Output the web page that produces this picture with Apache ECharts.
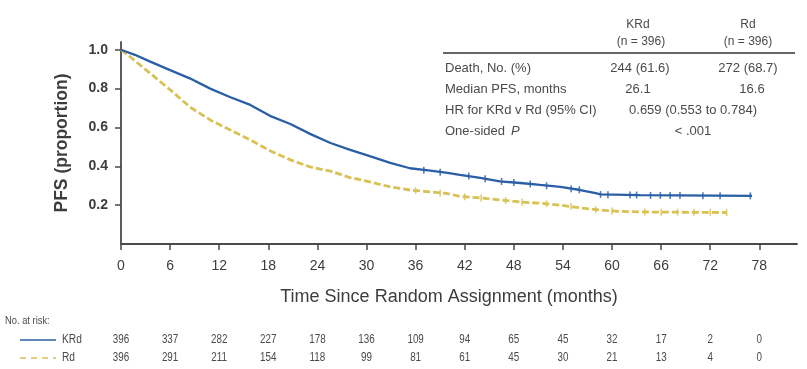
<!DOCTYPE html>
<html>
<head>
<meta charset="utf-8">
<script src="https://cdn.jsdelivr.net/npm/echarts@6/dist/echarts.min.js"></script>
<style>
html, body { margin: 0; padding: 0; background: #fff; }
#chart { width: 807px; height: 369px; }
</style>
</head>
<body>
<div id="chart"></div>
<script>
// KM curves, [months, proportion]
var kRdCurve = [
  [0, 1.0], [1.7, 0.974], [3.5, 0.94], [6, 0.895], [8.4, 0.853], [10.9, 0.8],
  [13.3, 0.757], [15.8, 0.716], [18.2, 0.66], [20.7, 0.618], [23.1, 0.567],
  [25.6, 0.52], [28, 0.485], [30.4, 0.452], [32.9, 0.418], [35.3, 0.39],
  [37.8, 0.378], [39.9, 0.366], [41.4, 0.356], [43.9, 0.34], [46.3, 0.322],
  [48.8, 0.314], [51.2, 0.304], [53.7, 0.294], [56.1, 0.278], [58, 0.262],
  [58.6, 0.255], [63.4, 0.252], [77.1, 0.248]
]
var rdCurve = [
  [0, 1.0], [1.1, 0.964], [3.5, 0.881], [6, 0.794], [8.4, 0.706], [10.9, 0.639],
  [13.3, 0.588], [15.8, 0.536], [18.2, 0.48], [20.7, 0.433], [23.1, 0.397],
  [25.6, 0.375], [28, 0.342], [30.4, 0.32], [32.9, 0.294], [35.3, 0.278],
  [37.8, 0.268], [39.9, 0.26], [41.4, 0.245], [43.9, 0.237], [46.3, 0.227],
  [48.8, 0.216], [51.2, 0.21], [53.7, 0.2], [56.1, 0.186], [58.6, 0.175],
  [61, 0.168], [63.4, 0.165], [74, 0.162]
]
// censor ticks
var kRdCensor = [
  [37, 0.38], [39, 0.37], [42.5, 0.35], [44.5, 0.336], [46.5, 0.322], [48, 0.316],
  [50, 0.309], [52, 0.3], [55, 0.285], [56, 0.279], [58.6, 0.255], [59.5, 0.254],
  [62.2, 0.252], [63, 0.252], [64.7, 0.25], [65.9, 0.25], [67.1, 0.25],
  [68.3, 0.25], [71.1, 0.249], [73.2, 0.249], [76.9, 0.248]
]
var rdCensor = [
  [36, 0.275], [39, 0.263], [42, 0.243], [44, 0.237], [47, 0.224], [49, 0.215],
  [52, 0.207], [55, 0.194], [58, 0.177], [60, 0.17], [64, 0.165], [66, 0.164],
  [68, 0.164], [70, 0.163], [72, 0.163], [74, 0.162]
]
var xTicks = [0, 6, 12, 18, 24, 30, 36, 42, 48, 54, 60, 66, 72, 78]
var yTicks = [0.2, 0.4, 0.6, 0.8, 1.0]
var atRiskKRd = [396, 337, 282, 227, 178, 136, 109, 94, 65, 45, 32, 17, 2, 0]
var atRiskRd = [396, 291, 211, 154, 118, 99, 81, 61, 45, 30, 21, 13, 4, 0]

var tableCols = ['KRd', 'Rd']
var tableN = ['(n = 396)', '(n = 396)']
var tableRows = ['Death, No. (%)', 'Median PFS, months', 'HR for KRd v Rd (95% CI)', 'One-sided P']
var tableKRd = ['244 (61.6)', '26.1']
var tableRd = ['272 (68.7)', '16.6']
var tableSpan = ['0.659 (0.553 to 0.784)', '< .001']

var blue = '#2a5fa5'
var gold = '#d8c155'
var ink = '#3d3d3d'
var sans = '"Liberation Sans", Arial, sans-serif'

var myChart = echarts.init(document.getElementById('chart'))

// small text helper, squeezed a bit to look like the condensed face
var txt = function (x, y, s, opt) {
  opt = opt || {}
  return {
    type: 'text', x: x, y: y, scaleX: opt.sx || 1,
    style: {
      text: s,
      fill: opt.color || '#4a4a4a',
      font: (opt.style || 'normal') + ' ' + (opt.weight || 'normal') + ' ' + (opt.size || 13) + 'px ' + sans,
      align: opt.align || 'left', verticalAlign: 'middle'
    }
  }
}

var graphics = []
// table
graphics.push({ type: 'line', shape: { x1: 443, y1: 53, x2: 795, y2: 53 }, style: { stroke: '#333', lineWidth: 1.5 } })
graphics.push(txt(638, 25, tableCols[0], { align: 'center', size: 12 }))
graphics.push(txt(748, 25, tableCols[1], { align: 'center', size: 12 }))
graphics.push(txt(641, 42, tableN[0], { align: 'center', size: 12 }))
graphics.push(txt(748, 42, tableN[1], { align: 'center', size: 12 }))
var rowY = [68, 89, 110, 131]
tableRows.forEach(function (r, i) {
  if (i === 3) {
    graphics.push(txt(445, rowY[i], 'One-sided '))
    graphics.push(txt(511, rowY[i], 'P', { style: 'italic' }))
  } else {
    graphics.push(txt(445, rowY[i], r))
  }
})
graphics.push(txt(640, rowY[0], tableKRd[0], { align: 'center' }))
graphics.push(txt(748, rowY[0], tableRd[0], { align: 'center' }))
graphics.push(txt(638, rowY[1], tableKRd[1], { align: 'center' }))
graphics.push(txt(752, rowY[1], tableRd[1], { align: 'center' }))
graphics.push(txt(693, rowY[2], tableSpan[0], { align: 'center' }))
graphics.push(txt(693, rowY[3], tableSpan[1], { align: 'center' }))
// at-risk legend
graphics.push(txt(5, 321, 'No. at risk:', { size: 11, sx: 0.85 }))
graphics.push({ type: 'line', shape: { x1: 20, y1: 340, x2: 56, y2: 340 }, style: { stroke: blue, lineWidth: 1.6 } })
graphics.push({ type: 'line', shape: { x1: 20, y1: 358, x2: 56, y2: 358 }, style: { stroke: gold, lineWidth: 1.6, lineDash: [6, 5] } })
graphics.push(txt(62, 340, 'KRd', { size: 12, sx: 0.85 }))
graphics.push(txt(62, 358, 'Rd', { size: 12, sx: 0.85 }))

var options = {
  animation: false,
  grid: { left: 121, right: 10, top: 42, bottom: 125, containLabel: false },
  xAxis: {
    type: 'value', min: 0, max: 82.6,
    axisLine: { show: true, lineStyle: { color: '#4a4a4a', width: 1.8 } },
    axisTick: { show: true, customValues: xTicks, length: 6, lineStyle: { color: '#4a4a4a', width: 1.5 } },
    axisLabel: { customValues: xTicks, color: ink, fontSize: 14, fontFamily: sans, margin: 15 },
    splitLine: { show: false },
    name: 'Time Since Random Assignment (months)',
    nameLocation: 'middle', nameGap: 44,
    nameTextStyle: { color: ink, fontSize: 18, fontFamily: sans, padding: [0, 20, 0, 0] }
  },
  yAxis: {
    type: 'value', min: 0, max: 1.04,
    axisLine: { show: true, lineStyle: { color: '#4a4a4a', width: 1.8 } },
    axisTick: { show: true, customValues: yTicks, length: 6, lineStyle: { color: '#4a4a4a', width: 1.5 } },
    axisLabel: {
      customValues: yTicks, color: ink, fontSize: 14, fontWeight: 'bold', margin: 13,
      fontFamily: sans,
      formatter: function (v) { return v.toFixed(1) }
    },
    splitLine: { show: false },
    name: 'PFS (proportion)',
    nameLocation: 'middle', nameGap: 50,
    nameTextStyle: { color: ink, fontSize: 17.5, fontWeight: 'bold', fontFamily: sans }
  },
  series: [
    {
      name: 'Rd', type: 'line', data: rdCurve, showSymbol: false, symbol: 'none',
      lineStyle: { color: gold, width: 2.8, type: [7, 3] }, z: 2
    },
    {
      name: 'Rd censor', type: 'scatter', data: rdCensor, symbol: 'rect', symbolSize: [1.6, 7],
      itemStyle: { color: gold }, z: 2
    },
    {
      name: 'KRd', type: 'line', data: kRdCurve, showSymbol: false, symbol: 'none',
      lineStyle: { color: blue, width: 2.3 }, z: 3
    },
    {
      name: 'KRd censor', type: 'scatter', data: kRdCensor, symbol: 'rect', symbolSize: [1.6, 7],
      itemStyle: { color: blue }, z: 3
    }
  ],
  graphic: graphics
}
myChart.setOption(options)

// numbers at risk, placed under the x ticks through the axis scale
var riskTexts = []
xTicks.forEach(function (t, i) {
  var px = myChart.convertToPixel({ xAxisIndex: 0 }, t)
  riskTexts.push(txt(px, 340, String(atRiskKRd[i]), { size: 12, sx: 0.82, align: 'center' }))
  riskTexts.push(txt(px, 358, String(atRiskRd[i]), { size: 12, sx: 0.82, align: 'center' }))
})
myChart.setOption({ graphic: graphics.concat(riskTexts) })
</script>
</body>
</html>
